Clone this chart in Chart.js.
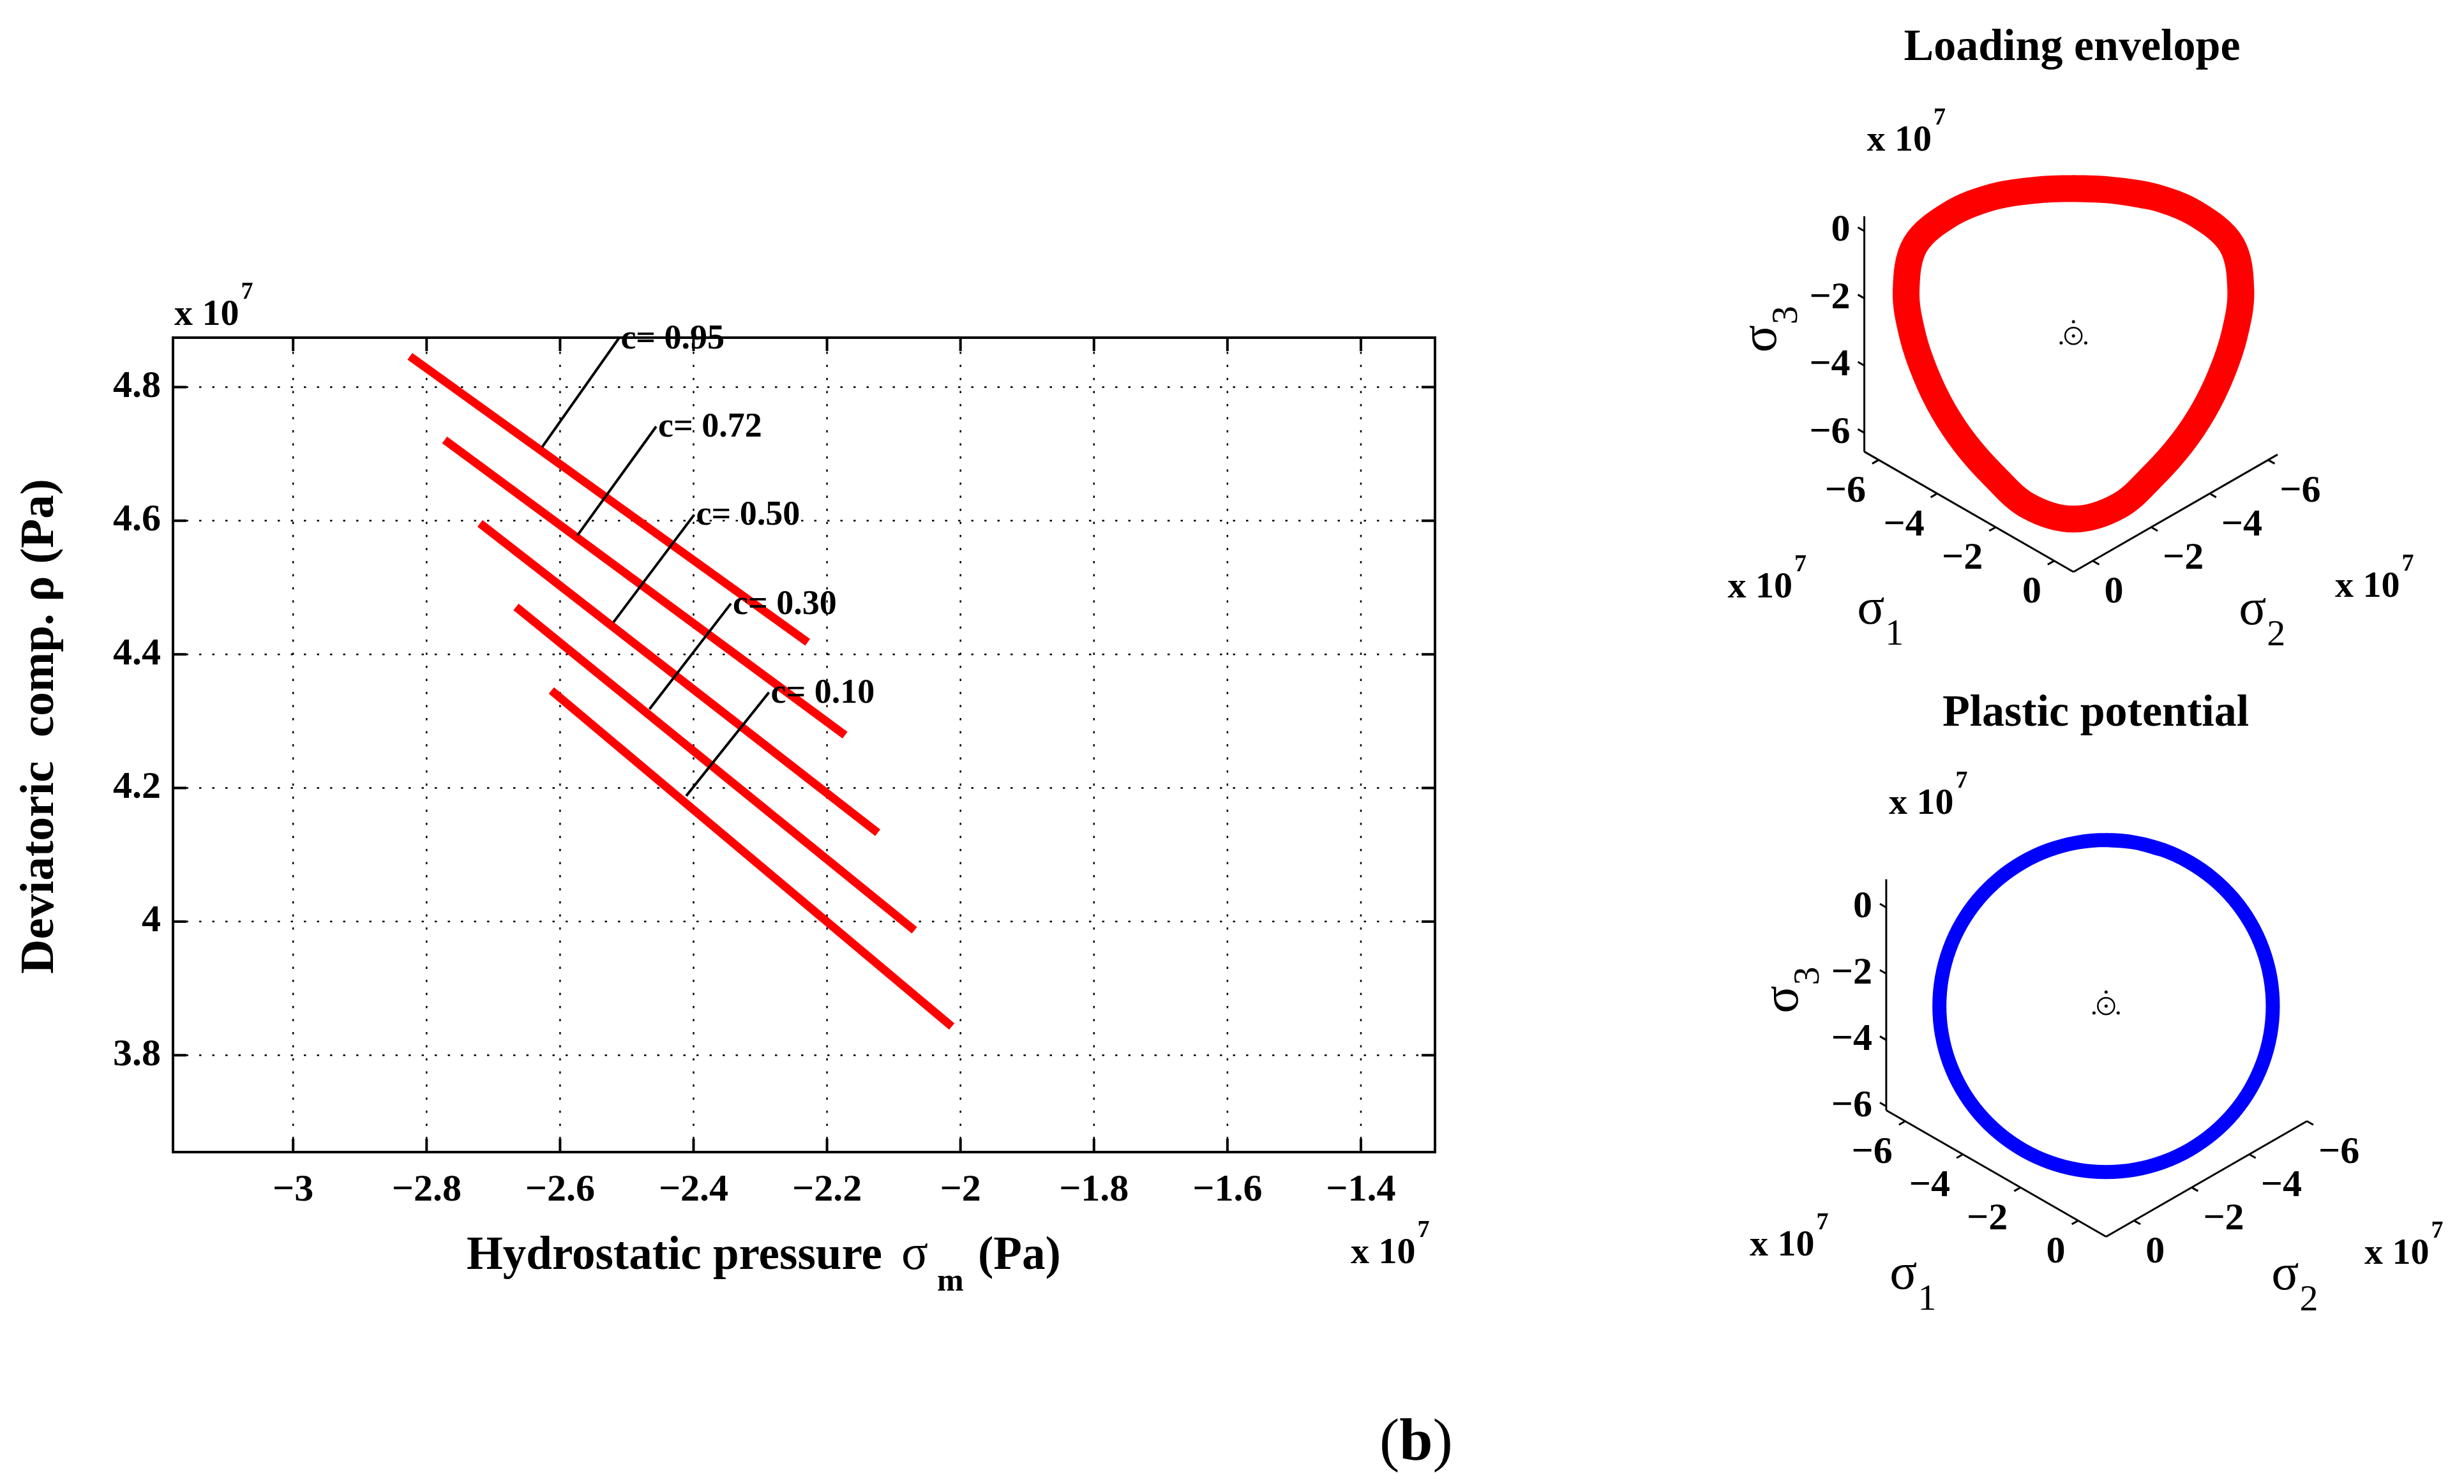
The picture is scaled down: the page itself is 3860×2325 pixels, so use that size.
<!DOCTYPE html>
<html>
<head>
<meta charset="utf-8">
<title>Loading envelope and plastic potential</title>
<script src="https://cdn.jsdelivr.net/npm/chart.js@4.4.1/dist/chart.umd.min.js"></script>
<style>
  html, body { margin: 0; padding: 0; background: #fff; }
  body { width: 3860px; height: 2325px; position: relative; overflow: hidden; }
  canvas { position: absolute; }
</style>
</head>
<body>
<canvas id="pressureChart" width="2650" height="2325" style="left:0;top:0"></canvas>
<canvas id="envelopeChart" width="1210" height="1050" style="left:2650px;top:0"></canvas>
<canvas id="potentialChart" width="1210" height="1050" style="left:2650px;top:1050px"></canvas>
<script>
const SERIF = '"Liberation Serif", "Times New Roman", serif';

// main plot, values in 1e7 Pa
const xRange = [-3.18, -1.289];
const yRange = [3.655, 4.874];
const xTickValues = [-3, -2.8, -2.6, -2.4, -2.2, -2, -1.8, -1.6, -1.4];
const xTickLabels = ['\u22123', '\u22122.8', '\u22122.6', '\u22122.4', '\u22122.2', '\u22122', '\u22121.8', '\u22121.6', '\u22121.4'];
const yTickValues = [3.8, 4, 4.2, 4.4, 4.6, 4.8];
const yTickLabels = ['3.8', '4', '4.2', '4.4', '4.6', '4.8'];

const cValues = ['0.95', '0.72', '0.50', '0.30', '0.10'];
const lineStartX = [-2.825, -2.773, -2.720, -2.666, -2.613];
const lineStartY = [4.846, 4.721, 4.596, 4.471, 4.346];
const lineEndX = [-2.229, -2.173, -2.124, -2.069, -2.013];
const lineEndY = [4.418, 4.279, 4.133, 3.987, 3.843];
const leaderFromX = [-2.627, -2.574, -2.520, -2.466, -2.411];
const leaderFromY = [4.710, 4.578, 4.448, 4.318, 4.188];
const leaderToX = [-2.512, -2.456, -2.399, -2.344, -2.287];
const leaderToY = [4.873, 4.741, 4.609, 4.476, 4.343];

// deviatoric views, values in 1e7 Pa
const sigmaTicks = [-6, -4, -2, 0];
const sigmaTickLabels = ['\u22126', '\u22124', '\u22122', '0'];

const envelopeAngle = [0, 15, 30, 45, 60, 75, 90, 105, 120, 135, 150, 165, 180, 195, 210, 225, 240, 255, 270, 285, 300, 315, 330, 345];
const envelopeRadius = [4.38, 4.48, 4.77, 5.13, 5.41, 5.13, 4.76, 4.52, 4.45, 4.53, 4.77, 5.23, 5.45, 5.23, 4.77, 4.53, 4.45, 4.52, 4.76, 5.13, 5.41, 5.13, 4.77, 4.48];
const envelopeCenter = [0, -0.2];
const envelopeS1 = [-6.49, 0.66];
const envelopeS2 = [-6.32, 0.66];
const envelopeS3 = [-6.56, 0.44];

const potentialAngle = [0, 10, 20, 30, 40, 50, 60, 70, 80, 90, 100, 110, 120, 130, 140, 150, 160, 170, 180, 190, 200, 210, 220, 230, 240, 250, 260, 270, 280, 290, 300, 310, 320, 330, 340, 350];
const potentialRadius = [5.01, 5.01, 5.01, 5.01, 5.01, 5.01, 5.01, 5.01, 5.01, 5.01, 5.01, 5.01, 5.01, 5.01, 5.01, 5.01, 5.01, 5.01, 5.01, 5.01, 5.01, 5.01, 5.01, 5.01, 5.01, 5.01, 5.01, 5.01, 5.01, 5.01, 5.01, 5.01, 5.01, 5.01, 5.01, 5.01];
const potentialCenter = [0, -0.13];
const potentialS1 = [-6.66, 0.97];
const potentialS2 = [-6.0, 0.97];
const potentialS3 = [-6.12, 0.85];

const COS30 = Math.sqrt(3) / 2;

function drawTimesTen(ctx, x, y) {
  ctx.save();
  ctx.fillStyle = '#000';
  ctx.textAlign = 'left';
  ctx.textBaseline = 'alphabetic';
  ctx.font = 'bold 58px ' + SERIF;
  ctx.fillText('x 10', x, y);
  const w = ctx.measureText('x 10').width;
  ctx.font = 'bold 38px ' + SERIF;
  ctx.fillText('7', x + w + 3, y - 41);
  ctx.restore();
}

function seg(ctx, x1, y1, x2, y2) {
  ctx.beginPath();
  ctx.moveTo(x1, y1);
  ctx.lineTo(x2, y2);
  ctx.stroke();
}

// ---------- main chart ----------
const mainFrame = {
  id: 'mainFrame',
  beforeDatasetsDraw(chart) {
    const { ctx, chartArea: a, scales: { x, y } } = chart;
    ctx.save();
    ctx.strokeStyle = '#000';
    ctx.lineWidth = 2.5;
    ctx.setLineDash([3.5, 17]);
    xTickValues.forEach(v => {
      const px = x.getPixelForValue(v);
      seg(ctx, px, a.bottom, px, a.top);
    });
    yTickValues.forEach(v => {
      const py = y.getPixelForValue(v);
      seg(ctx, a.left, py, a.right, py);
    });
    ctx.restore();
  },
  afterDatasetsDraw(chart) {
    const { ctx, chartArea: a, scales: { x, y } } = chart;
    ctx.save();
    ctx.strokeStyle = '#000';
    ctx.lineWidth = 4;
    // inward ticks on all sides
    xTickValues.forEach(v => {
      const px = x.getPixelForValue(v);
      seg(ctx, px, a.bottom, px, a.bottom - 21);
      seg(ctx, px, a.top, px, a.top + 21);
    });
    yTickValues.forEach(v => {
      const py = y.getPixelForValue(v);
      seg(ctx, a.left, py, a.left + 21, py);
      seg(ctx, a.right, py, a.right - 21, py);
    });
    ctx.strokeRect(a.left, a.top, a.right - a.left, a.bottom - a.top);
    ctx.restore();
  },
  afterDraw(chart) {
    const { ctx, scales: { x, y } } = chart;
    ctx.save();
    ctx.fillStyle = '#000';

    // c labels at the end of each leader
    ctx.font = 'bold 54px ' + SERIF;
    ctx.textAlign = 'left';
    ctx.textBaseline = 'middle';
    cValues.forEach((c, i) => {
      ctx.fillText('c= ' + c, x.getPixelForValue(leaderToX[i]) + 3, y.getPixelForValue(leaderToY[i]) + 2);
    });

    // x axis title
    ctx.textBaseline = 'alphabetic';
    ctx.font = 'bold 73px ' + SERIF;
    ctx.fillText('Hydrostatic pressure', 731, 1988);
    ctx.font = '78px ' + SERIF;
    ctx.fillText('\u03c3', 1412, 1988);
    ctx.font = 'bold 50px ' + SERIF;
    ctx.fillText('m', 1468, 2022);
    ctx.font = 'bold 73px ' + SERIF;
    ctx.fillText('(Pa)', 1532, 1988);

    // y axis title
    ctx.save();
    ctx.translate(83, 1138);
    ctx.rotate(-Math.PI / 2);
    ctx.textAlign = 'center';
    ctx.font = 'bold 75px ' + SERIF;
    ctx.fillText('Deviatoric  comp. \u03c1 (Pa)', 0, 0);
    ctx.restore();

    drawTimesTen(ctx, 273, 509);
    drawTimesTen(ctx, 2116, 1979);

    // panel letter
    let bx = 2161;
    ctx.font = '94px ' + SERIF;
    ctx.fillText('(', bx, 2287);
    bx += ctx.measureText('(').width;
    ctx.font = 'bold 94px ' + SERIF;
    ctx.fillText('b', bx, 2287);
    bx += ctx.measureText('b').width;
    ctx.font = '94px ' + SERIF;
    ctx.fillText(')', bx, 2287);
    ctx.restore();
  }
};

const mainDatasets = [];
cValues.forEach((c, i) => {
  mainDatasets.push({
    label: 'c= ' + c,
    data: [{ x: lineStartX[i], y: lineStartY[i] }, { x: lineEndX[i], y: lineEndY[i] }],
    showLine: true,
    borderColor: '#ff0000',
    borderWidth: 13,
    borderCapStyle: 'butt',
    pointRadius: 0,
    order: 1
  });
});
cValues.forEach((c, i) => {
  mainDatasets.push({
    label: 'leader ' + c,
    data: [{ x: leaderFromX[i], y: leaderFromY[i] }, { x: leaderToX[i], y: leaderToY[i] }],
    showLine: true,
    borderColor: '#000',
    borderWidth: 4,
    pointRadius: 0,
    order: 0
  });
});

const tickFont = { family: SERIF, size: 60, weight: 'bold' };

new Chart(document.getElementById('pressureChart'), {
  type: 'scatter',
  data: { datasets: mainDatasets },
  options: {
    responsive: false,
    animation: false,
    events: [],
    layout: { padding: { left: 0, top: 529, right: 402, bottom: 0 } },
    plugins: { legend: { display: false }, tooltip: { enabled: false } },
    scales: {
      x: {
        type: 'linear',
        min: xRange[0],
        max: xRange[1],
        grid: { display: false, drawTicks: false },
        border: { display: false },
        afterBuildTicks: s => { s.ticks = xTickValues.map(v => ({ value: v })); },
        afterFit: s => { s.height = 520; },
        ticks: { callback: (v, i) => xTickLabels[i], font: tickFont, color: '#000', padding: 24, maxRotation: 0, autoSkip: false }
      },
      y: {
        type: 'linear',
        min: yRange[0],
        max: yRange[1],
        grid: { display: false, drawTicks: false },
        border: { display: false },
        afterBuildTicks: s => { s.ticks = yTickValues.map(v => ({ value: v })); },
        afterFit: s => { s.width = 271; },
        ticks: { callback: (v, i) => yTickLabels[i], font: tickFont, color: '#000', padding: 19, autoSkip: false }
      }
    }
  },
  plugins: [mainFrame]
});

// ---------- deviatoric views ----------
function proj(s1, s2, s3) {
  return { x: COS30 * (s1 - s2), y: s3 - 0.5 * (s1 + s2) };
}

function makeView(canvasId, o) {
  const [a1, b1] = o.s1, [a2, b2] = o.s2, [a3, b3] = o.s3;
  const curve = o.angle.map((deg, i) => {
    const t = deg * Math.PI / 180;
    return { x: o.center[0] + o.radius[i] * Math.sin(t), y: o.center[1] + o.radius[i] * Math.cos(t) };
  });
  // wrap round so the closing point is smooth too
  curve.push(curve[0], curve[1], curve[2]);

  const tipLen = 0.42;
  const tips = [proj(tipLen, 0, 0), proj(0, tipLen, 0), proj(0, 0, tipLen)]
    .map(p => ({ x: o.center[0] + p.x, y: o.center[1] + p.y }));

  const axes = [
    [proj(a1, b2, a3), proj(a1, b2, b3)],
    [proj(a1, b2, a3), proj(b1, b2, a3)],
    [proj(b1, b2, a3), proj(b1, a2, a3)]
  ];

  const TICK = 0.22;
  const viewFrame = {
    id: 'viewFrame',
    afterDatasetsDraw(chart) {
      const { ctx, scales: { x, y } } = chart;
      const px = p => ({ x: x.getPixelForValue(p.x), y: y.getPixelForValue(p.y) });
      ctx.save();
      ctx.strokeStyle = '#000';
      ctx.fillStyle = '#000';
      ctx.lineWidth = 3;
      ctx.font = 'bold 60px ' + SERIF;
      ctx.textBaseline = 'middle';
      sigmaTicks.forEach((t, i) => {
        let p = px(proj(a1, b2, t)), q = px(proj(a1 - TICK, b2, t));
        seg(ctx, p.x, p.y, q.x, q.y);
        ctx.textAlign = 'right';
        ctx.fillText(sigmaTickLabels[i], p.x - 22, p.y);

        p = px(proj(t, b2, a3)); q = px(proj(t, b2 + TICK, a3));
        seg(ctx, p.x, p.y, q.x, q.y);
        ctx.fillText(sigmaTickLabels[i], p.x - 20, p.y + 50);

        p = px(proj(b1, t, a3)); q = px(proj(b1 + TICK, t, a3));
        seg(ctx, p.x, p.y, q.x, q.y);
        ctx.textAlign = 'left';
        ctx.fillText(sigmaTickLabels[i], p.x + 18, p.y + 50);
      });

      const corner = px(proj(a1, b2, a3));
      const top = px(proj(a1, b2, b3));
      const bottom = px(proj(b1, b2, a3));
      const far = px(proj(b1, a2, a3));

      ctx.textBaseline = 'alphabetic';
      ctx.textAlign = 'left';
      const sigma = (sx, sy, sub) => {
        ctx.font = '80px ' + SERIF;
        ctx.fillText('\u03c3', sx, sy);
        const w = ctx.measureText('\u03c3').width;
        ctx.font = '58px ' + SERIF;
        ctx.fillText(sub, sx + w + 1, sy + 33);
      };
      sigma(bottom.x - 339, bottom.y + 81, '1');
      sigma(bottom.x + 259, bottom.y + 82, '2');

      ctx.save();
      ctx.translate(corner.x - 157, (top.y + corner.y) / 2 - 7);
      ctx.rotate(-Math.PI / 2);
      ctx.font = '80px ' + SERIF;
      const ws = ctx.measureText('\u03c3').width;
      ctx.font = '58px ' + SERIF;
      const w3 = ctx.measureText('3').width;
      sigma(-(ws + w3) / 2, 18, '3');
      ctx.restore();

      drawTimesTen(ctx, top.x + 4, top.y - 103);
      drawTimesTen(ctx, corner.x - 214, corner.y + 228);
      drawTimesTen(ctx, far.x + 90, far.y + 223);

      ctx.font = 'bold 70px ' + SERIF;
      ctx.textAlign = 'center';
      ctx.fillText(o.title, o.titleX, o.titleY);
      ctx.restore();
    }
  };

  new Chart(document.getElementById(canvasId), {
    type: 'scatter',
    data: {
      datasets: [
        { data: curve, showLine: true, borderColor: o.color, borderWidth: o.width, tension: 0.35, borderJoinStyle: 'round', borderCapStyle: 'round', pointRadius: 0, order: 3 },
        ...axes.map(pts => ({ data: pts, showLine: true, borderColor: '#000', borderWidth: 3, pointRadius: 0, order: 2 })),
        { data: [{ x: o.center[0], y: o.center[1] }], showLine: false, pointRadius: 13, pointBorderWidth: 2.5, pointBorderColor: '#000', pointBackgroundColor: 'rgba(0,0,0,0)', order: 1 },
        { data: [{ x: o.center[0], y: o.center[1] }, ...tips], showLine: false, pointRadius: 2.5, pointBorderWidth: 0, pointBackgroundColor: '#000', order: 0 }
      ]
    },
    options: {
      responsive: false,
      animation: false,
      events: [],
      layout: { padding: 0 },
      plugins: { legend: { display: false }, tooltip: { enabled: false } },
      scales: {
        x: { type: 'linear', display: false, min: o.uRange[0], max: o.uRange[1] },
        y: { type: 'linear', display: false, min: o.vRange[0], max: o.vRange[1] }
      }
    },
    plugins: [viewFrame]
  });
}

makeView('envelopeChart', {
  title: 'Loading envelope', titleX: 596, titleY: 94,
  angle: envelopeAngle, radius: envelopeRadius, center: envelopeCenter,
  s1: envelopeS1, s2: envelopeS2, s3: envelopeS3,
  color: '#ff0000', width: 42,
  uRange: [-11.013, 11.271], vRange: [-9.847, 9.490]
});

makeView('potentialChart', {
  title: 'Plastic potential', titleX: 633, titleY: 87,
  angle: potentialAngle, radius: potentialRadius, center: potentialCenter,
  s1: potentialS1, s2: potentialS2, s3: potentialS3,
  color: '#0000ff', width: 22,
  uRange: [-12.159, 10.458], vRange: [-9.921, 9.705]
});
</script>
</body>
</html>
